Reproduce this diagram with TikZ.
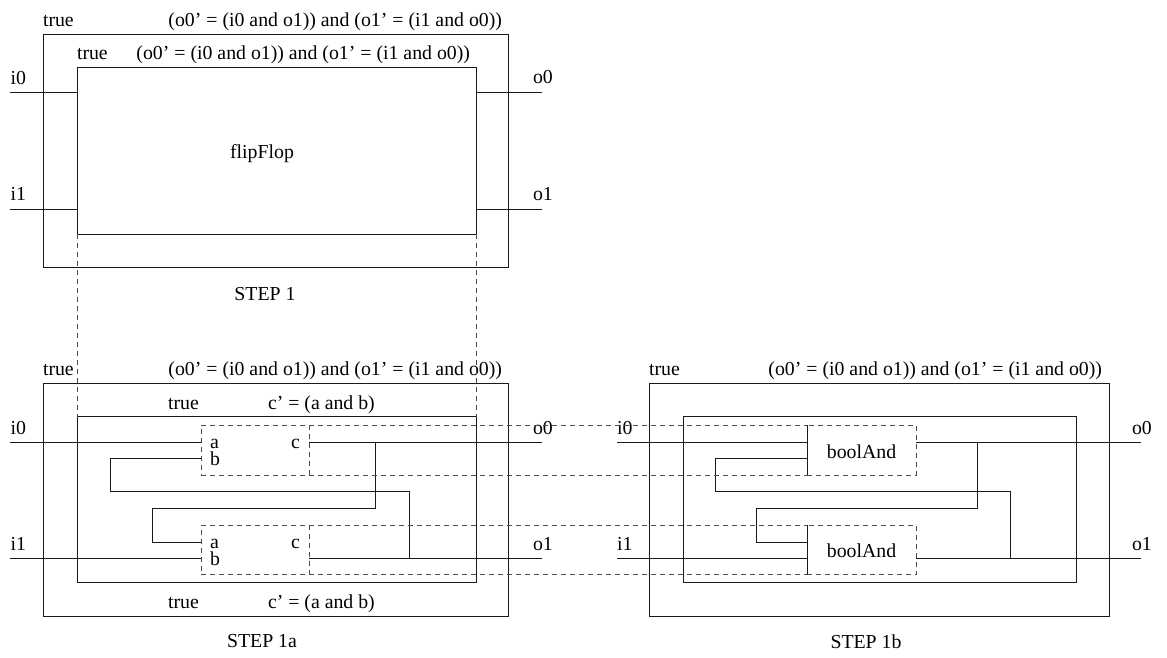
\documentclass[tikz,border=0pt]{standalone}
\usepackage{fontspec}
\setmainfont{Liberation Serif}
\begin{document}
\begin{tikzpicture}[x=1pt,y=-1pt,
  every node/.style={inner sep=0pt, outer sep=0pt, font=\fontsize{19.8}{24}\selectfont},
  wire/.style={line width=1pt, draw=black!90},
  frame/.style={draw=black!90, line width=1pt, rectangle, minimum width=#1},
  dsh/.style={draw=black!70, line width=1pt, dash pattern=on 5pt off 4pt},
  lw/.style={anchor=base west},
  le/.style={anchor=base east},
  lc/.style={anchor=base}]
\useasboundingbox (0,0) rectangle (1167,658);

% ---------------- STEP 1 ----------------
\node[frame=465pt, minimum height=232.5pt] (outerA) at (275.5,150.75) {};
\node[frame=399pt, minimum height=166pt] (innerA) at (276.5,151) {};
\node[lw] (tA) at (43,26.5) {true};
\node[le] (fA) at (502,26.5) {(o0' = (i0 and o1)) and (o1' = (i1 and o0))};
\node[lw] (tAi) at (77,60) {true};
\node[le] (fAi) at (470,60) {(o0' = (i0 and o1)) and (o1' = (i1 and o0))};
\node[lc] (ff) at (262,158) {flipFlop};
\node[lc] (stepA) at (265,300) {STEP 1};
\coordinate (Ai0) at (10,93);
\coordinate (Ao0) at (542,93);
\coordinate (Ai1) at (10,209);
\coordinate (Ao1) at (542,209);
\node[lw] (Li0A) at (10.5,85) {i0};
\node[lw] (Lo0A) at (533,84) {o0};
\node[lw] (Li1A) at (10.5,200) {i1};
\node[lw] (Lo1A) at (533,200) {o1};
\draw[wire] (Ai0) -- (Ai0 -| innerA.west);
\draw[wire] (Ai1) -- (Ai1 -| innerA.west);
\draw[wire] (Ao0 -| innerA.east) -- (Ao0);
\draw[wire] (Ao1 -| innerA.east) -- (Ao1);

% ---------------- STEP 1a ----------------
\node[frame=465pt, minimum height=232.5pt] (outerB) at (275.5,499.75) {};
\node[frame=399pt, minimum height=166pt] (innerB) at (276.5,499.7) {};
\node[lw] (tB) at (43,375.5) {true};
\node[le] (fB) at (502,375.5) {(o0' = (i0 and o1)) and (o1' = (i1 and o0))};
\node[lw] (tBi) at (168,409) {true};
\node[lw] (cBi) at (268,409) {c' = (a and b)};
\node[lw] (tBb) at (168,608) {true};
\node[lw] (cBb) at (268,608) {c' = (a and b)};
\node[lc] (stepB) at (262,647) {STEP 1a};
\node[dsh, rectangle, minimum width=108pt, minimum height=50pt] (B1) at (255,450) {};
\node[dsh, rectangle, minimum width=108pt, minimum height=49.5pt] (B2) at (255,549.75) {};
\node[lw] (B1ab) at (210,448) {\rlap{\raisebox{-17pt}{b}}a};
\node[le] (B1c) at (300,448) {c};
\node[lw] (B2ab) at (210,548) {\rlap{\raisebox{-17pt}{b}}a};
\node[le] (B2c) at (300,548) {c};
\coordinate (Bi0) at (10,442);
\coordinate (Bo0) at (542,442);
\coordinate (Bi1) at (10,558);
\coordinate (Bo1) at (542,558);
\node[lw] (Li0B) at (10.5,434) {i0};
\node[lw] (Lo0B) at (533,434) {o0};
\node[lw] (Li1B) at (10.5,550) {i1};
\node[lw] (Lo1B) at (533,550) {o1};
\draw[wire] (Bi0) -- (Bi0 -| B1.west);
\draw[wire] (Bo0 -| B1.east) -- (Bo0);
\draw[wire] (Bi1) -- (Bi1 -| B2.west);
\draw[wire] (Bo1 -| B2.east) -- (Bo1);
\draw[wire] (B1.west |- 0,458) -- (110,458) -- (110,491) -- (409,491) -- (409,558);
\draw[wire] (375.7,442) -- (375.7,508) -- (152,508) -- (152,542) -- (B2.west |- 0,542);

% ---------------- STEP 1b ----------------
\node[frame=460pt, minimum height=232.5pt] (outerC) at (879,499.75) {};
\node[frame=393pt, minimum height=166pt] (innerC) at (879.5,499.7) {};
\node[lw] (tC) at (649,375.5) {true};
\node[le] (fC) at (1102,375.5) {(o0' = (i0 and o1)) and (o1' = (i1 and o0))};
\node[lc] (stepC) at (866,648) {STEP 1b};
\node[dsh, rectangle, minimum width=109pt, minimum height=50pt] (C1) at (861.5,450) {};
\node[dsh, rectangle, minimum width=109pt, minimum height=49.5pt] (C2) at (861.5,549.75) {};
\draw[wire] (C1.south west) -- (C1.north west);
\draw[wire] (C2.south west) -- (C2.north west);
\node[lc] (andC1) at (861.5,458) {boolAnd};
\node[lc] (andC2) at (861.5,557.7) {boolAnd};
\coordinate (Ci0) at (617,442);
\coordinate (Co0) at (1141,442);
\coordinate (Ci1) at (617,558);
\coordinate (Co1) at (1141,558);
\node[lw] (Li0C) at (617,434) {i0};
\node[lw] (Lo0C) at (1132,434) {o0};
\node[lw] (Li1C) at (617,550) {i1};
\node[lw] (Lo1C) at (1132,550) {o1};
\draw[wire] (Ci0) -- (Ci0 -| C1.west);
\draw[wire] (Co0 -| C1.east) -- (Co0);
\draw[wire] (Ci1) -- (Ci1 -| C2.west);
\draw[wire] (Co1 -| C2.east) -- (Co1);
\draw[wire] (C1.west |- 0,458) -- (715,458) -- (715,491) -- (1010,491) -- (1010,558);
\draw[wire] (977.5,442) -- (977.5,508) -- (756,508) -- (756,542) -- (C2.west |- 0,542);

% ---------------- correspondences ----------------
\draw[dsh] (innerA.south west) -- (innerB.north west);
\draw[dsh] (innerA.south east) -- (innerB.north east);
\draw[dsh] (B1.north east) -- (C1.north west);
\draw[dsh] (B1.south east) -- (C1.south west);
\draw[dsh] (B2.north east) -- (C2.north west);
\draw[dsh] (B2.south east) -- (C2.south west);
\end{tikzpicture}
\end{document}
